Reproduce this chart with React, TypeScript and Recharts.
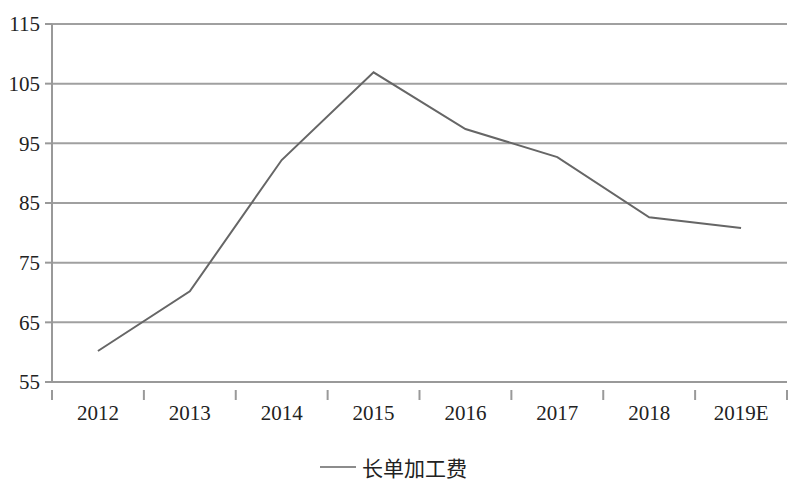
import { LineChart, Line, XAxis, YAxis, CartesianGrid, Legend } from 'recharts';

const years = ['2012', '2013', '2014', '2015', '2016', '2017', '2018', '2019E'];
const fees = [60.2, 70.2, 92.2, 106.9, 97.4, 92.7, 82.6, 80.8];
const yTicks = [55, 65, 75, 85, 95, 105, 115];

const data = years.map((year, i) => ({ idx: i, year, fee: fees[i] }));

// ticks at band edges (x.5) get a tick mark, ticks at band centres get the year label
const xTicks: number[] = [];
for (let i = 0; i <= years.length * 2; i++) xTicks.push(i / 2 - 0.5);

const font = '"Liberation Serif", "Noto Sans CJK SC", serif';

function XTick(props: any) {
  const { x, y, payload } = props;
  const v = payload.value;
  if (Number.isInteger(v)) {
    return (
      <text x={x} y={y + 30} textAnchor="middle" fontSize={21} fontFamily={font} fill="#222">
        {years[v]}
      </text>
    );
  }
  return <line x1={x} y1={y} x2={x} y2={y + 10} stroke="#999" strokeWidth={2} />;
}

function LegendContent(props: any) {
  const { payload } = props;
  return (
    <div style={{ display: 'flex', justifyContent: 'center', alignItems: 'center', paddingLeft: 0 }}>
      {(payload || []).map((entry: any) => (
        <div key={entry.value} style={{ display: 'flex', alignItems: 'center' }}>
          <svg width={36} height={10} style={{ marginRight: 6 }}>
            <line x1={0} y1={5} x2={36} y2={5} stroke={entry.color} strokeWidth={1.5} />
          </svg>
          <span style={{ color: '#222', fontSize: 21, fontFamily: font }}>{entry.value}</span>
        </div>
      ))}
    </div>
  );
}

export default function App() {
  return (
    <div style={{ position: 'absolute', left: 0, top: 0, background: '#fff' }}>
      <LineChart width={800} height={500} data={data} margin={{ top: 24, right: 13, left: 0, bottom: 0 }}>
        <CartesianGrid vertical={false} stroke="#a0a0a0" strokeWidth={2} />
        <XAxis
          dataKey="idx"
          type="number"
          domain={[-0.5, years.length - 0.5]}
          ticks={xTicks}
          interval={0}
          tick={<XTick />}
          tickLine={false}
          axisLine={{ stroke: '#999', strokeWidth: 2 }}
          height={70}
        />
        <YAxis
          domain={[55, 115]}
          ticks={yTicks}
          interval={0}
          width={52}
          tickSize={7}
          tickMargin={5}
          tick={{ fontSize: 21, fontFamily: font, fill: '#222' }}
          tickLine={{ stroke: '#999', strokeWidth: 2 }}
          axisLine={{ stroke: '#999', strokeWidth: 2 }}
        />
        <Legend verticalAlign="bottom" height={48} content={<LegendContent />} />
        <Line
          type="linear"
          dataKey="fee"
          name="长单加工费"
          stroke="#666"
          strokeWidth={2}
          dot={false}
          isAnimationActive={false}
        />
      </LineChart>
    </div>
  );
}
